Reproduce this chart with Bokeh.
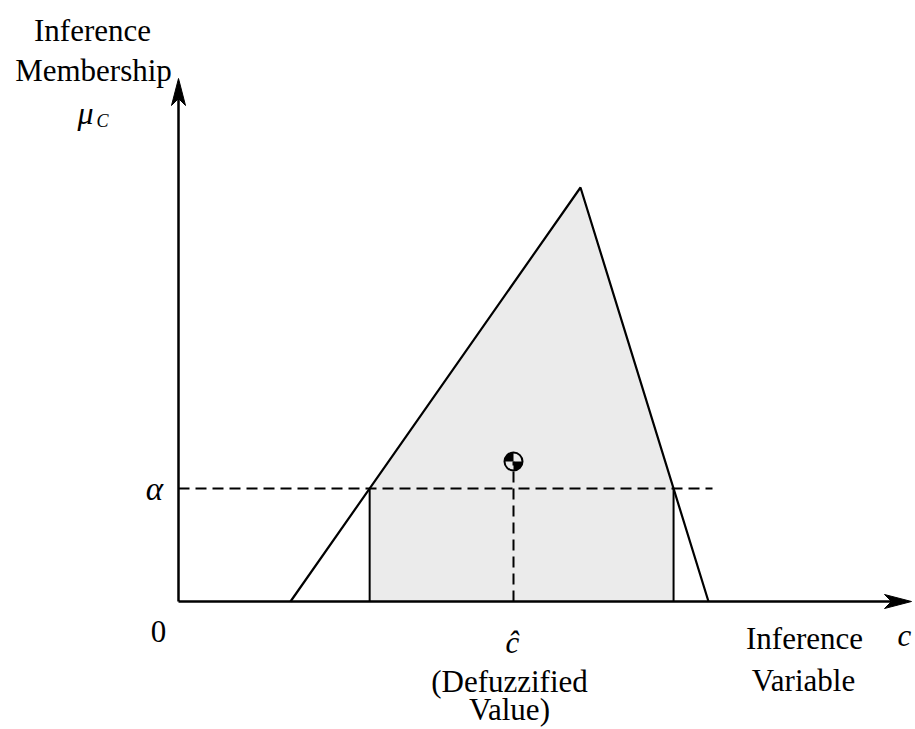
from bokeh.plotting import figure
from bokeh.models import Range1d
from bokeh.core.properties import value
from bokeh.embed import file_html
from bokeh.resources import INLINE
import numpy as np

# Triangular inference membership function (feet and apex) and cut level
tri_x = [1.12, 4.02, 5.30]
tri_y = [0.0, 4.14, 0.0]
alpha = 1.13
# Defuzzified value (centroid of the shaded area)
c_hat = 3.35
c_hat_y = 1.40
# Axis extents
x_axis_end = 7.33
y_axis_end = 5.23
alpha_line_end = 5.34

SERIF = value("Liberation Serif")

p = figure(width=915, height=729, output_backend="svg", toolbar_location=None,
           x_range=Range1d(-1.78, 7.37), y_range=Range1d(-1.28, 6.01),
           x_axis_type=None, y_axis_type=None, min_border=0)
p.grid.visible = False
p.outline_line_color = None
p.background_fill_color = "white"

# alpha-cut intersections with the two triangle edges
xl = tri_x[0] + (tri_x[1] - tri_x[0]) * alpha / tri_y[1]
xr = tri_x[2] - (tri_x[2] - tri_x[1]) * alpha / tri_y[1]

# shaded region: the clipped triangle above alpha plus rectangle under the cut
shade_x = [xl, xl, tri_x[1], xr, xr]
shade_y = [0, alpha, tri_y[1], alpha, 0]
p.patch(shade_x, shade_y, fill_color="#ebebeb", line_color=None)

# triangle outline
p.line(tri_x, tri_y, line_color="black", line_width=2.2)
# vertical edges of the rectangle
p.segment([xl, xr], [0, 0], [xl, xr], [alpha, alpha], line_color="black", line_width=2)

# dashed alpha line and dashed drop from the centroid
p.segment(0, alpha, alpha_line_end, alpha, line_color="black", line_width=2, line_dash="11 6")
p.segment(c_hat, 0, c_hat, c_hat_y, line_color="black", line_width=2, line_dash="11 6")

# axes
p.segment(0, 0, x_axis_end - 0.2, 0, line_color="black", line_width=2.5)
p.segment(0, 0, 0, y_axis_end - 0.2, line_color="black", line_width=2.5)

def head(tip_x, tip_y, dx, dy, length=0.27, half=0.07, notch=0.07):
    px, py = -dy, dx
    bx, by = tip_x - dx * length, tip_y - dy * length
    nx, ny = tip_x - dx * (length - notch), tip_y - dy * (length - notch)
    xs = [tip_x, bx + px * half, nx, bx - px * half]
    ys = [tip_y, by + py * half, ny, by - py * half]
    return xs, ys

hx, hy = head(x_axis_end, 0, 1, 0)
vx, vy = head(0, y_axis_end, 0, 1)
p.patches([hx, vx], [hy, vy], fill_color="black", line_color="black", line_width=1)

# centroid marker
p.wedge([c_hat, c_hat], [c_hat_y, c_hat_y], radius=9, radius_units="screen",
        start_angle=[np.pi / 2, 3 * np.pi / 2], end_angle=[np.pi, 2 * np.pi],
        fill_color="black", line_color=None)
p.scatter([c_hat], [c_hat_y], size=18, fill_color=None, line_color="black", line_width=2)

def label(x, y, txt, dx=0, dy=0, size="31px", style="normal", align="center", base="alphabetic"):
    p.text([x], [y], text=[txt], x_offset=dx, y_offset=dy, text_font=SERIF,
           text_font_size=size, text_font_style=style, text_align=align,
           text_baseline=base, text_color="black")

# y axis title
label(0, y_axis_end, "Inference", dx=-86, dy=-48)
label(0, y_axis_end, "Membership", dx=-85, dy=-8)
label(0, y_axis_end, "\u03bc", dx=-101, dy=34, style="italic", size="32px", align="left")
label(0, y_axis_end, "C", dx=-82, dy=42, style="italic", size="18px", align="left")

# y ticks
label(0, alpha, "\u03b1", dx=-24, dy=0, style="italic", size="33px", base="middle")
label(0, 0, "0", dx=-20, dy=30)

# defuzzified value
label(c_hat, 0, "\u0109", dx=-1, dy=41, style="italic")
label(c_hat, 0, "(Defuzzified", dx=-4, dy=80)
label(c_hat, 0, "Value)", dx=-4, dy=108)

# x axis title
label(x_axis_end, 0, "Inference", dx=-107, dy=37)
label(x_axis_end, 0, "Variable", dx=-108, dy=79)
label(x_axis_end, 0, "c", dx=-7, dy=34, style="italic")

open("out.html", "w").write(file_html(p, INLINE))
